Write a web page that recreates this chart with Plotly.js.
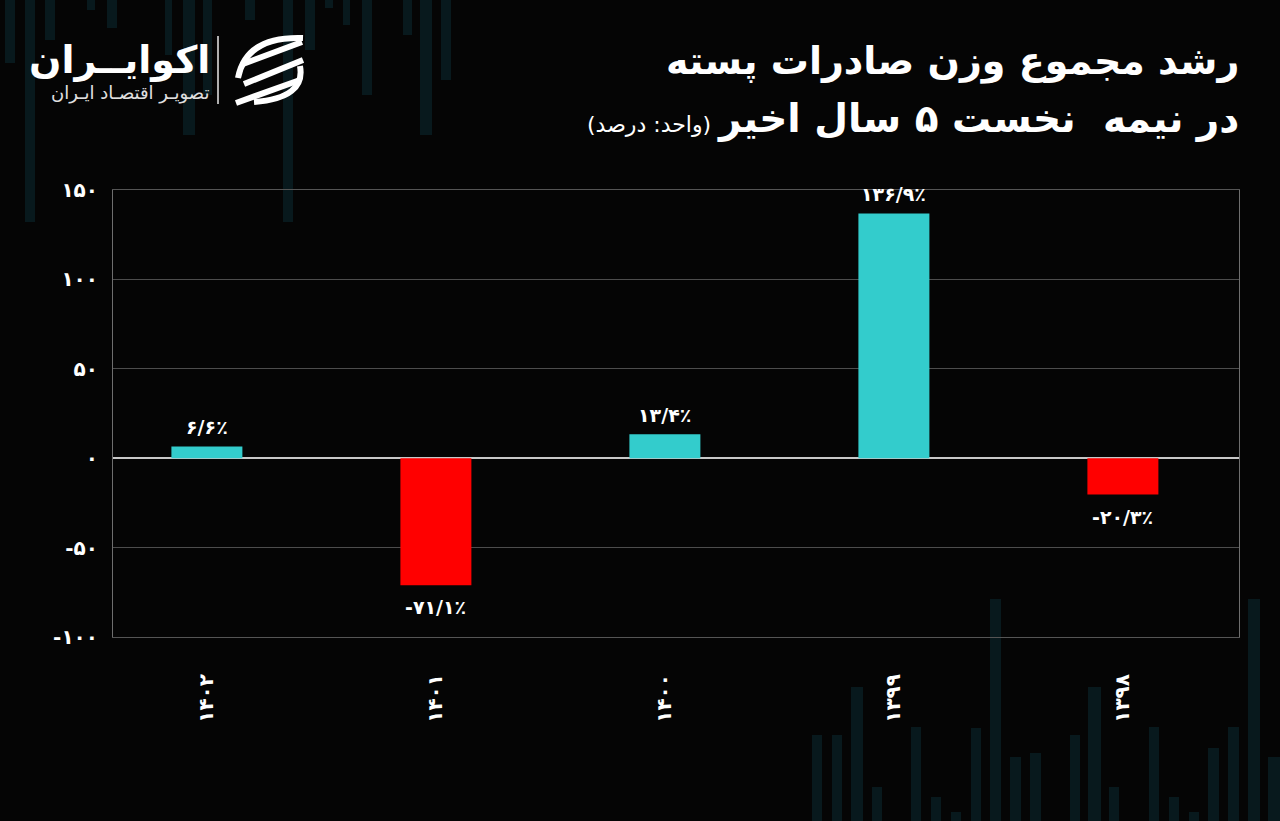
<!DOCTYPE html>
<html>
<head>
<meta charset="utf-8">
<script src="https://cdn.plot.ly/plotly-3.0.1.min.js"></script>
<style>
  html, body { margin: 0; padding: 0; background: #050505; }
  #chart { width: 1280px; height: 821px; }
</style>
</head>
<body>
<div id="chart"></div>
<script>
// ---- data ----
const categories = ['۱۴۰۲', '۱۴۰۱', '۱۴۰۰', '۱۳۹۹', '۱۳۹۸'];
const values = [6.6, -71.1, 13.4, 136.9, -20.3];
const valueLabels = ['۶/۶٪', '-۷۱/۱٪', '۱۳/۴٪', '۱۳۶/۹٪', '-۲۰/۳٪'];
const yTickValues = [-100, -50, 0, 50, 100, 150];
const yTickLabels = ['-۱۰۰', '-۵۰', '۰', '۵۰', '۱۰۰', '۱۵۰'];

const titleLine1 = 'رشد مجموع وزن صادرات پسته';
const titleLine2 = 'در نیمه  نخست ۵ سال اخیر';
const unitText = '(واحد: درصد)';
const brandName = 'اکوایــران';
const brandTagline = 'تصویـر اقتصـاد ایـران';

// ---- style ----
const POS_COLOR = '#33cccc';
const NEG_COLOR = '#ff0000';
const FA_FONT = 'DejaVu Sans, Noto Sans, sans-serif';

// plot area in pixels
const L = 113, R = 1239, T = 190, B = 637;
const px = x => (x - L) / (R - L);
const py = y => (B - y) / (B - T);
const RLM = '\u200F';

// decorative background stripes (pixel boxes: x0, x1, yTop, yBottom)
const deco = [
  [5,15,0,63],[25,35,0,222],[45,55,0,40],[87,95,0,10],[107,117,0,28],
  [165,172,0,55],[183,195,0,135],[203,212,0,95],[245,255,0,20],[283,293,0,222],
  [305,315,0,50],[325,333,0,8],[343,350,0,25],[362,372,0,95],[403,412,0,35],[420,432,0,135],[441,451,0,80],
  [812,822,735,821],[832,842,735,821],[851,863,687,821],[872,882,787,821],[911,921,727,821],
  [931,941,797,821],[951,961,812,821],[971,981,728,821],[990,1001,599,821],[1010,1021,757,821],
  [1030,1041,753,821],[1070,1080,735,821],[1088,1101,687,821],[1109,1119,787,821],[1149,1159,727,821],
  [1169,1179,797,821],[1189,1199,812,821],[1208,1219,748,821],[1228,1239,727,821],[1248,1260,599,821],
  [1268,1280,757,821]
];

const shapes = deco.map(d => ({
  type: 'rect', xref: 'paper', yref: 'paper', layer: 'below',
  x0: px(d[0]), x1: px(d[1]), y0: py(d[3]), y1: py(d[2]),
  fillcolor: '#08191d', line: { width: 0 }
}));

// logo separator
shapes.push({
  type: 'line', xref: 'paper', yref: 'paper',
  x0: px(218), x1: px(218), y0: py(36), y1: py(104),
  line: { color: '#e8e8e8', width: 1.5 }
});

// logo icon (stylised swooshes)
function pathPx(cmds) {
  return cmds.map(c => {
    if (typeof c === 'string') return c;
    return px(c[0]).toFixed(5) + ',' + py(c[1]).toFixed(5);
  }).join(' ');
}
const iconPaths = [
  ['M', [303, 38], 'Q', [246, 36], [238, 78]],
  ['M', [243, 64], 'L', [302, 42]],
  ['M', [244, 84], 'L', [303, 60]],
  ['M', [236, 103], 'L', [300, 80]],
  ['M', [300, 66], 'Q', [306, 98], [254, 102]]
];
iconPaths.forEach(p => shapes.push({
  type: 'path', xref: 'paper', yref: 'paper',
  path: pathPx(p),
  line: { color: '#ffffff', width: 6 }
}));

const barColors = values.map(v => v >= 0 ? POS_COLOR : NEG_COLOR);

const trace = {
  type: 'bar',
  x: categories,
  y: values,
  width: 0.31,
  marker: { color: barColors, line: { width: 0 } },
  hoverinfo: 'skip'
};

// value labels placed at each bar end through the axes
const valueAnnotations = values.map((v, i) => ({
  xref: 'x', yref: 'y', x: categories[i], y: v,
  text: valueLabels[i], showarrow: false,
  yanchor: v >= 0 ? 'bottom' : 'top',
  yshift: v >= 0 ? 6 : -9,
  font: { family: FA_FONT, size: 19, color: '#ffffff', weight: 700 }
}));

const textAnnotations = [
  { text: RLM + titleLine1 + RLM, x: px(1241), y: py(62), xanchor: 'right', yanchor: 'middle',
    font: { family: FA_FONT, size: 38, color: '#ffffff', weight: 700 } },
  { text: RLM + titleLine2 + RLM, x: px(1241), y: py(119), xanchor: 'right', yanchor: 'middle',
    font: { family: FA_FONT, size: 39, color: '#ffffff', weight: 700 } },
  { text: RLM + unitText + RLM, x: px(713), y: py(124), xanchor: 'right', yanchor: 'middle',
    font: { family: FA_FONT, size: 22, color: '#ffffff' } },
  { text: RLM + brandName + RLM, x: px(212), y: py(60), xanchor: 'right', yanchor: 'middle',
    font: { family: FA_FONT, size: 38, color: '#ffffff', weight: 700 } },
  { text: RLM + brandTagline + RLM, x: px(211), y: py(93), xanchor: 'right', yanchor: 'middle',
    font: { family: FA_FONT, size: 18, color: '#e0e0e0' } }
].map(a => Object.assign({ xref: 'paper', yref: 'paper', showarrow: false }, a));

const layout = {
  width: 1280,
  height: 821,
  paper_bgcolor: '#050505',
  plot_bgcolor: 'rgba(0,0,0,0)',
  margin: { l: L, r: 1280 - R, t: T, b: 821 - B, pad: 0 },
  showlegend: false,
  xaxis: {
    type: 'category',
    range: [-0.41, 4.507],
    showgrid: false,
    zeroline: false,
    showline: true,
    mirror: true,
    linecolor: '#555555',
    linewidth: 1,
    tickangle: -90,
    ticks: 'outside',
    ticklen: 28,
    tickcolor: 'rgba(0,0,0,0)',
    tickfont: { family: FA_FONT, size: 20, color: '#ffffff', weight: 700 },
    fixedrange: true
  },
  yaxis: {
    range: [-100, 150],
    tickvals: yTickValues,
    ticktext: yTickLabels,
    showgrid: true,
    gridcolor: '#4d4d4d',
    gridwidth: 1,
    zeroline: true,
    zerolinecolor: '#c8c8c8',
    zerolinewidth: 2,
    showline: true,
    mirror: true,
    linecolor: '#6e6e6e',
    linewidth: 1,
    ticks: 'outside',
    ticklen: 10,
    tickcolor: 'rgba(0,0,0,0)',
    tickfont: { family: FA_FONT, size: 20, color: '#ffffff', weight: 700 },
    fixedrange: true
  },
  shapes: shapes,
  annotations: valueAnnotations.concat(textAnnotations)
};

Plotly.newPlot('chart', [trace], layout, { displayModeBar: false, staticPlot: true });
</script>
</body>
</html>
